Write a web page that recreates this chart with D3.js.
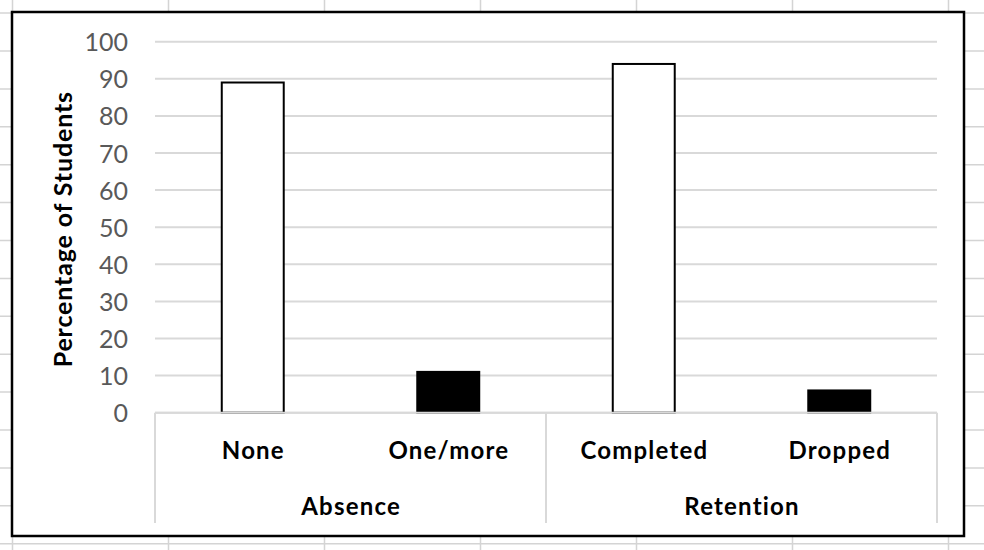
<!DOCTYPE html>
<html>
<head>
<meta charset="utf-8">
<script src="https://cdn.jsdelivr.net/npm/d3@7"></script>
<style>
  html, body { margin: 0; padding: 0; background: #ffffff; }
  svg { display: block; }
  text { font-family: Lato, "Open Sans", sans-serif; }
</style>
</head>
<body>
<svg id="chart" width="984" height="550"></svg>
<script>
// ---- data ----
const categories = ["None", "One/more", "Completed", "Dropped"];
const groups = ["Absence", "Absence", "Retention", "Retention"];
const groupNames = ["Absence", "Retention"];
const values = [89, 11, 94, 6];
const barFills = ["#ffffff", "#000000", "#ffffff", "#000000"];
const yTicks = [0, 10, 20, 30, 40, 50, 60, 70, 80, 90, 100];
const yTitle = "Percentage of Students";

const W = 984, H = 550;
const svg = d3.select("#chart");

// spreadsheet grid background
const bg = svg.append("g");
d3.range(-1, 14).forEach(k => {
  const y = 51 + 37.9 * k;
  bg.append("line").attr("x1", 0).attr("x2", W).attr("y1", y).attr("y2", y)
    .attr("stroke", "#d4d4d4").attr("stroke-width", 1.5);
});
d3.range(0, 7).forEach(k => {
  const x = 12.5 + 156 * k;
  bg.append("line").attr("x1", x).attr("x2", x).attr("y1", 0).attr("y2", H)
    .attr("stroke", "#d4d4d4").attr("stroke-width", 1.5);
});

// chart area
svg.append("rect").attr("x", 12).attr("y", 12).attr("width", 952).attr("height", 524)
  .attr("fill", "#ffffff").attr("stroke", "#000000").attr("stroke-width", 2.5);

const plot = { left: 155, right: 937, top: 41.7, bottom: 412.7 };

const x = d3.scaleBand().domain(categories).range([plot.left, plot.right])
  .paddingInner(0.683).paddingOuter(0.3415);
const y = d3.scaleLinear().domain([0, 100]).range([plot.bottom, plot.top]);

// gridlines
svg.append("g").selectAll("line").data(yTicks).join("line")
  .attr("x1", plot.left).attr("x2", plot.right)
  .attr("y1", d => y(d)).attr("y2", d => y(d))
  .attr("stroke", "#d9d9d9").attr("stroke-width", 2);

// y axis labels
const yAxis = d3.axisLeft(y).tickValues(yTicks).tickSize(0).tickPadding(0);
const ya = svg.append("g").attr("transform", `translate(128,0)`).call(yAxis);
ya.select(".domain").remove();
ya.selectAll("text").attr("font-family", "Lato, sans-serif").attr("font-size", 25)
  .attr("fill", "#595959").attr("dy", "0.36em");

// bars
svg.append("g").selectAll("rect").data(values).join("rect")
  .attr("x", (d, i) => x(categories[i]))
  .attr("y", d => y(d))
  .attr("width", x.bandwidth())
  .attr("height", d => y(0) - y(d))
  .attr("fill", (d, i) => barFills[i])
  .attr("stroke", "#000000").attr("stroke-width", 2);

// category axis (multi-level)
const axisG = svg.append("g");
axisG.append("line").attr("x1", plot.left).attr("x2", plot.right)
  .attr("y1", plot.bottom).attr("y2", plot.bottom)
  .attr("stroke", "#d9d9d9").attr("stroke-width", 2);

// group dividers
const groupBounds = groupNames.map(g => {
  const cats = categories.filter((c, i) => groups[i] === g);
  const x0 = x(cats[0]) - x.step() * x.paddingInner() / 2;
  const x1 = x(cats[cats.length - 1]) + x.bandwidth() + x.step() * x.paddingInner() / 2;
  return { g, x0, x1 };
});
const dividerXs = [plot.left].concat(groupBounds.map(b => b.x1));
axisG.selectAll(".div").data(dividerXs).join("line")
  .attr("x1", d => d).attr("x2", d => d)
  .attr("y1", plot.bottom).attr("y2", 523)
  .attr("stroke", "#d9d9d9").attr("stroke-width", 2);

axisG.selectAll(".cat").data(categories).join("text")
  .attr("x", d => x(d) + x.bandwidth() / 2 + 0.6)
  .attr("y", 459)
  .attr("text-anchor", "middle")
  .attr("letter-spacing", 1.2)
  .attr("font-size", 24).attr("font-weight", "bold").attr("fill", "#000000")
  .text(d => d);

axisG.selectAll(".grp").data(groupBounds).join("text")
  .attr("x", d => (d.x0 + d.x1) / 2 + 0.6)
  .attr("y", 515)
  .attr("text-anchor", "middle")
  .attr("letter-spacing", 1.2)
  .attr("font-size", 24).attr("font-weight", "bold").attr("fill", "#000000")
  .text(d => d.g);

// y title
svg.append("text")
  .attr("transform", `translate(63, ${(plot.top + plot.bottom) / 2 + 2}) rotate(-90)`)
  .attr("text-anchor", "middle").attr("dy", "0.35em")
  .attr("letter-spacing", 0.85)
  .attr("font-size", 25).attr("font-weight", "bold").attr("fill", "#000000")
  .text(yTitle);
</script>
</body>
</html>
